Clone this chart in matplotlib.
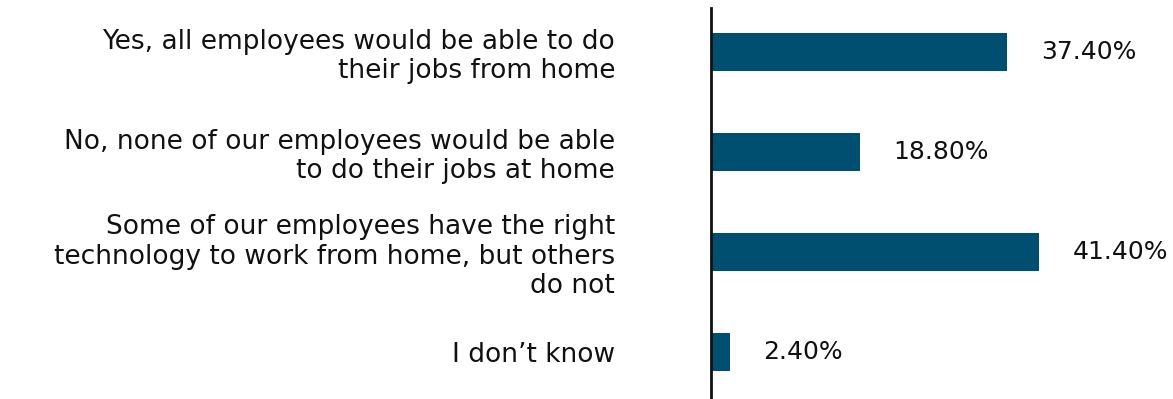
import matplotlib
matplotlib.use("Agg")
import matplotlib.pyplot as plt

categories = [
    "Yes, all employees would be able to do\ntheir jobs from home",
    "No, none of our employees would be able\nto do their jobs at home",
    "Some of our employees have the right\ntechnology to work from home, but others\ndo not",
    "I don\u2019t know",
]
values = [37.4, 18.8, 41.4, 2.4]
value_labels = ["37.40%", "18.80%", "41.40%", "2.40%"]

W, H = 1173, 399
fig = plt.figure(figsize=(W / 100, H / 100), dpi=100)
ax = fig.add_axes([711 / W, 0, (1169 - 711) / W, 1 - 8 / H])

color = "#004F71"
y = list(range(len(values)))
ax.barh(y, values, height=0.38, color=color)
ax.set_xlim(0, 57.8)
ax.set_ylim(3.47, -0.44)

ax.set_yticks(y)
ax.set_yticklabels(categories, fontsize=19, family="DejaVu Sans", color="#111111",
                   linespacing=1.16, ha="right")
ax.tick_params(axis="y", length=0, pad=69)
ax.set_xticks([])
for s in ["top", "right", "bottom"]:
    ax.spines[s].set_visible(False)
ax.spines["left"].set_linewidth(2)
ax.spines["left"].set_color("#111111")

for yi, v, lab in zip(y, values, value_labels):
    ax.annotate(lab, (v, yi), xytext=(24, 0), textcoords="offset points",
                va="center", ha="left", fontsize=18, family="DejaVu Sans",
                color="#111111")

fig.savefig("out.png", dpi=100)
